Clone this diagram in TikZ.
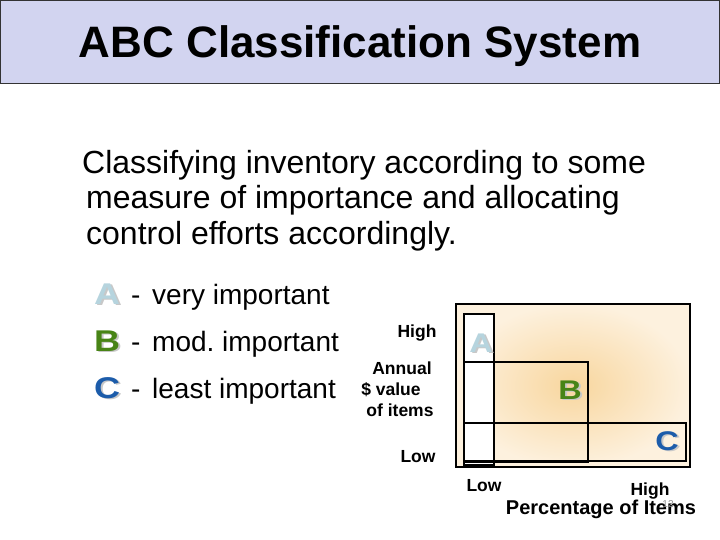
\documentclass[tikz,border=0pt]{standalone}
\usepackage{fontspec}
\setmainfont{Liberation Sans}
\definecolor{titlefill}{RGB}{210,212,240}
\definecolor{lettA}{RGB}{182,212,222}
\definecolor{lettB}{RGB}{72,132,22}
\definecolor{lettC}{RGB}{28,92,170}
\definecolor{shadowgray}{RGB}{200,200,200}
\definecolor{peachin}{RGB}{248,214,158}
\definecolor{peachout}{RGB}{253,241,222}
\newcommand{\wideletter}[1]{\scalebox{1.2}[1]{#1}}
\tikzset{
  titletext/.style={font=\fontsize{44}{50}\selectfont\bfseries, anchor=base, inner sep=0pt},
  bodytext/.style={font=\fontsize{32}{36}\selectfont, anchor=base west, inner sep=0pt},
  listtext/.style={font=\fontsize{28}{32}\selectfont, anchor=base west, inner sep=0pt},
  bigletter/.style={font=\fontsize{30}{34}\selectfont\bfseries, anchor=base, inner sep=0pt},
  chartletter/.style={font=\fontsize{27}{32}\selectfont\bfseries, anchor=base, inner sep=0pt},
  axislabel/.style={font=\fontsize{17.5}{20}\selectfont\bfseries, anchor=base, inner sep=0pt},
  axistitle/.style={font=\fontsize{20}{22}\selectfont\bfseries, anchor=base, inner sep=0pt},
  boxline/.style={draw=black, line width=1.9pt},
}
\begin{document}
\begin{tikzpicture}[x=1pt,y=-1pt]
\useasboundingbox (0,0) rectangle (720,540);
% title bar
\draw[fill=titlefill, draw=black!80, line width=1pt] (0.5,0.5) rectangle (719.5,84) ;
\node[titletext] (title) at (360,58) {ABC Classification System};
% paragraph
\node[bodytext] (p1) at (82,174) {Classifying inventory according to some};
\node[bodytext] (p2) at (86,209) {measure of importance and allocating};
\node[bodytext] (p3) at (86,244) {control efforts accordingly.};
% list
\node[bigletter, text=shadowgray] (Ash) at (109,305.5) {\wideletter{A}};
\node[bigletter, text=lettA] (Al) at (107,304) {\wideletter{A}};
\node[listtext] (Ad) at (131,304) {-};
\node[listtext] (At) at (152,304) {very important};
\node[bigletter, text=shadowgray] (Bsh) at (109,352.5) {\wideletter{B}};
\node[bigletter, text=lettB] (Bl) at (107,351) {\wideletter{B}};
\node[listtext] (Bd) at (131,351) {-};
\node[listtext] (Bt) at (152,351) {mod.\ important};
\node[bigletter, text=shadowgray] (Csh) at (109,399.5) {\wideletter{C}};
\node[bigletter, text=lettC] (Cl) at (107,398) {\wideletter{C}};
\node[listtext] (Cd) at (131,398) {-};
\node[listtext] (Ct) at (152,398) {least important};
% chart
\shade[inner color=peachin, outer color=peachout] (456,304) rectangle (690,467);
\fill[white] (464,314) rectangle (494,465);
\draw[boxline] (456,304) rectangle (690,467);
\draw[boxline] (464,314) rectangle (494,465);
\draw[boxline] (464,362) rectangle (588,462);
\draw[boxline] (464,423) rectangle (686,461);
\node[chartletter, text=shadowgray] (cAs) at (483,353.5) {\wideletter{A}};
\node[chartletter, text=lettA] (cA) at (481,352) {\wideletter{A}};
\node[chartletter, text=shadowgray] (cBs) at (572,400.5) {\wideletter{B}};
\node[chartletter, text=lettB] (cB) at (570,399) {\wideletter{B}};
\node[chartletter, text=shadowgray] (cCs) at (669,451.5) {\wideletter{C}};
\node[chartletter, text=lettC] (cC) at (667,450) {\wideletter{C}};
% axis labels
\node[axislabel] (yhigh) at (417,337) {High};
\node[axislabel] (yann) at (402,374) {Annual};
\node[axislabel] (yval) at (391,395) {\$ value};
\node[axislabel] (yof) at (400,416) {of items};
\node[axislabel] (ylow) at (418,462) {Low};
\node[axislabel] (xlow) at (484,491) {Low};
\node[axislabel] (xhigh) at (650,495) {High};
\node[axistitle] (xtitle) at (601,514) {Percentage of Items};
\node[font=\fontsize{10}{12}\selectfont, text=black!45, anchor=base, inner sep=0pt] (pnum) at (668,507) {12};
\end{tikzpicture}
\end{document}
